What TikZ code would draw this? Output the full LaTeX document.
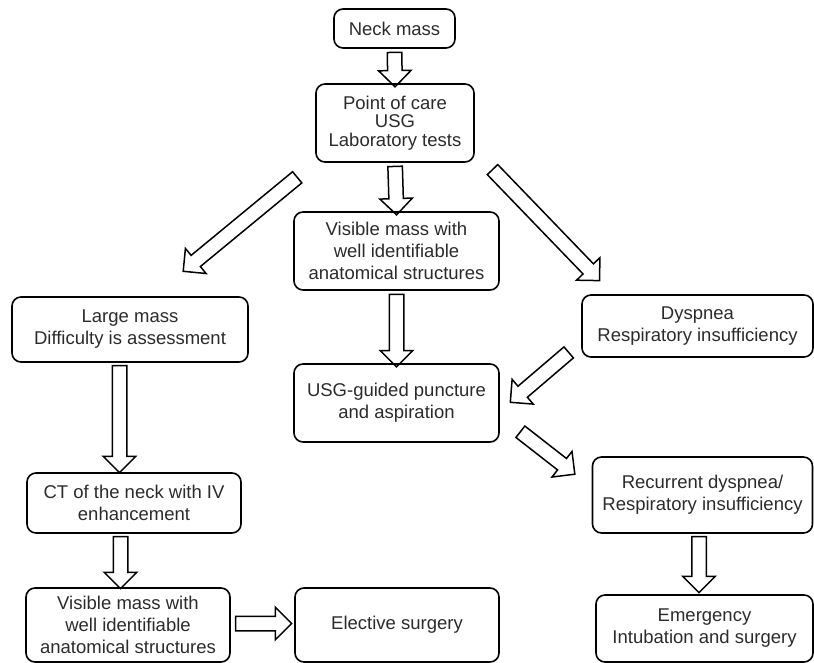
\documentclass[tikz,border=0pt]{standalone}
\usepackage{fontspec}
\setmainfont{Liberation Sans}
\usetikzlibrary{calc, shapes.arrows}
\definecolor{ink}{HTML}{2B2B2B}

% hollow block arrow between two named points
\newcommand{\fatarrow}[2]{%
  \path let \p1=($(#2)-(#1)$), \n1={atan2(\y1,\x1)}, \n2={veclen(\x1,\y1)} in
    node[bigarrow, minimum height=\n2, rotate=\n1] at ($(#1)!0.5!(#2)$) {};}

\begin{document}
\begin{tikzpicture}[x=1pt, y=-1pt,
    box/.style={draw, rounded corners=9pt, line width=1.6pt, align=center,
                inner sep=0pt, text=ink, font=\fontsize{18.5}{22}\selectfont},
    bigarrow/.style={single arrow, draw, line width=1.5pt, inner xsep=0pt,
                     inner ysep=6.5pt, single arrow head extend=9pt,
                     minimum width=0pt}
  ]
  \useasboundingbox (0,0) rectangle (814,663);

  % boxes
  \node[box, minimum width=121, minimum height=39] (neck) at (394.5,28.5) {Neck mass};
  \node[box, minimum width=158, minimum height=78,
        font=\fontsize{18.5}{18.5}\selectfont] (poc) at (395,123)
        {Point of care\\USG\\Laboratory tests};
  \node[box, minimum width=205, minimum height=78] (vis) at (396.5,251)
        {Visible mass with\\well identifiable\\anatomical structures};
  \node[box, minimum width=205, minimum height=78] (usg) at (396.5,403)
        {USG-guided puncture\\and aspiration};
  \node[box, minimum width=236, minimum height=65] (large) at (130,329.5)
        {Large mass\\Difficulty is assessment};
  \node[box, minimum width=231, minimum height=62] (dysp) at (697.5,326)
        {Dyspnea\\Respiratory insufficiency};
  \node[box, minimum width=220, minimum height=76] (recur) at (702.5,495)
        {Recurrent dyspnea/\\Respiratory insufficiency};
  \node[box, minimum width=214, minimum height=60] (ct) at (134,503)
        {CT of the neck with IV\\enhancement};
  \node[box, minimum width=204, minimum height=74] (vis2) at (128,625)
        {Visible mass with\\well identifiable\\anatomical structures};
  \node[box, minimum width=204, minimum height=74] (elect) at (397,625)
        {Elective surgery};
  \node[box, minimum width=217, minimum height=67] (emerg) at (704.5,628.5)
        {Emergency\\Intubation and surgery};

  % arrow ends
  \coordinate (lft1) at (300,175);
  \coordinate (lft2) at (186,269);
  \coordinate (rgt1) at (490,167);
  \coordinate (rgt2) at (597,278);
  \coordinate (lg1) at (119.5,362);
  \coordinate (lg2) at (119.5,469);
  \coordinate (ct1) at (120.5,533);
  \coordinate (ct2) at (120.5,585);
  \coordinate (dy1) at (571.5,350);
  \coordinate (dy2) at (513,400);
  \coordinate (us1) at (517.5,429.5);
  \coordinate (us2) at (572,472);
  \coordinate (vs1) at (232,623.5);
  \coordinate (vs2) at (288,623.5);
  \coordinate (rc1) at (699,533);
  \coordinate (rc2) at (699,589);

  % arrows
  \fatarrow{neck.south}{poc.north}
  \fatarrow{poc.south}{vis.north}
  \fatarrow{vis.south}{usg.north}
  \fatarrow{lft1}{lft2}
  \fatarrow{rgt1}{rgt2}
  \fatarrow{lg1}{lg2}
  \fatarrow{ct1}{ct2}
  \fatarrow{dy1}{dy2}
  \fatarrow{us1}{us2}
  \fatarrow{vs1}{vs2}
  \fatarrow{rc1}{rc2}
\end{tikzpicture}
\end{document}
